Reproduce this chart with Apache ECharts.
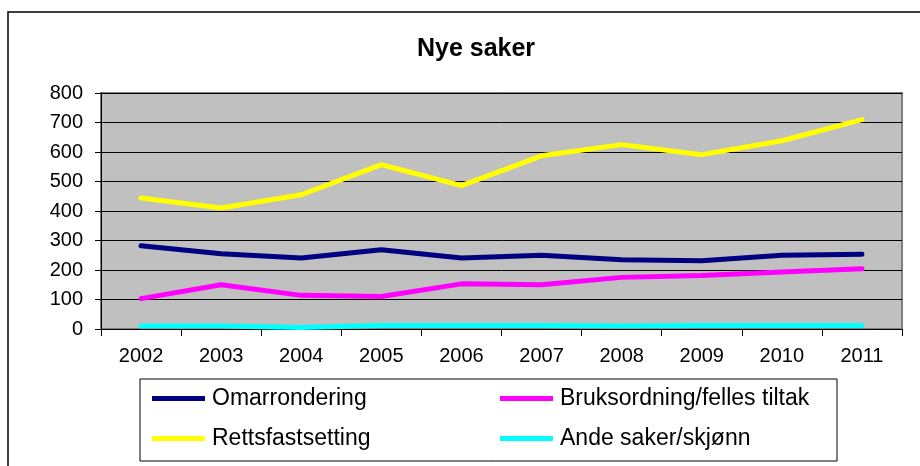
<!DOCTYPE html>
<html>
<head>
<meta charset="utf-8">
<script src="https://cdn.jsdelivr.net/npm/echarts@6/dist/echarts.min.js"></script>
<style>
  html, body { margin: 0; padding: 0; background: #fff; }
  #chart { width: 920px; height: 466px; }
</style>
</head>
<body>
<div id="chart"></div>
<script>
// kategorier (år)
const years = ['2002', '2003', '2004', '2005', '2006', '2007', '2008', '2009', '2010', '2011']
// serier
const omarrondering = [282, 255, 241, 269, 241, 250, 235, 231, 250, 253]
const bruksordning = [103, 150, 114, 110, 153, 150, 175, 181, 193, 204]
const rettsfastsetting = [444, 410, 455, 557, 486, 587, 625, 591, 638, 710]
const andeSaker = [10, 10, 5, 12, 12, 12, 10, 12, 12, 12]

const names = ['Omarrondering', 'Bruksordning/felles tiltak', 'Rettsfastsetting', 'Ande saker/skjønn']
const colors = ['#000080', '#FF00FF', '#FFFF00', '#00FFFF']
const font = 'Liberation Sans, Arial, sans-serif'

let mychart = echarts.init(document.getElementById('chart'))

//legend-plassering (fire små legender i en ramme)
const legendPos = [
  { left: 152, top: 387 },
  { left: 500, top: 387 },
  { left: 152, top: 427 },
  { left: 500, top: 427 },
]

mychart.setOption({
  animation: false,
  title: {
    text: 'Nye saker',
    left: 471,
    top: 32,
    textAlign: 'center',
    textStyle: { fontFamily: font, fontSize: 25, fontWeight: 'bold', color: '#000' },
  },
  legend: names.map((n, i) => ({
    data: [n],
    left: legendPos[i].left,
    top: legendPos[i].top,
    padding: 0,
    itemWidth: 53,
    itemHeight: 22,
    itemGap: 0,
    icon: 'path://M0,8.5L53,8.5L53,13.5L0,13.5Z',
    selectedMode: false,
    textStyle: { fontFamily: font, fontSize: 23, color: '#000', padding: [0, 0, 0, 2] },
  })),
  graphic: [
    {
      type: 'rect',
      shape: { x: 8, y: 12, width: 1000, height: 1000 },
      style: { fill: 'none', stroke: '#000', lineWidth: 1.5 },
      silent: true,
    },
    {
      type: 'rect',
      shape: { x: 140, y: 379, width: 697, height: 82 },
      style: { fill: 'none', stroke: '#000', lineWidth: 1 },
      silent: true,
      z: -1,
    },
  ],
  grid: {
    left: 101,
    top: 93,
    width: 801,
    height: 236,
    show: true,
    backgroundColor: '#C0C0C0',
    borderColor: '#808080',
    borderWidth: 2,
  },
  xAxis: {
    type: 'category',
    data: years,
    boundaryGap: true,
    axisLine: { show: true, lineStyle: { color: '#000', width: 1 } },
    axisTick: { show: true, length: 7, lineStyle: { color: '#000' } },
    axisLabel: { fontFamily: font, fontSize: 20, color: '#000', margin: 17 },
    splitLine: { show: false },
  },
  yAxis: {
    type: 'value',
    min: 0,
    max: 800,
    interval: 100,
    axisLine: { show: true, lineStyle: { color: '#000', width: 1 } },
    axisTick: { show: true, length: 6, lineStyle: { color: '#000' } },
    axisLabel: { fontFamily: font, fontSize: 20, color: '#000', margin: 18 },
    splitLine: { show: true, lineStyle: { color: '#000', width: 1 } },
  },
  series: [
    { name: names[0], data: omarrondering },
    { name: names[1], data: bruksordning },
    { name: names[2], data: rettsfastsetting },
    { name: names[3], data: andeSaker },
  ].map((s, i) => ({
    ...s,
    type: 'line',
    symbol: 'none',
    color: colors[i],
    lineStyle: { width: 5, color: colors[i], cap: 'round' },
  })),
})
</script>
</body>
</html>
